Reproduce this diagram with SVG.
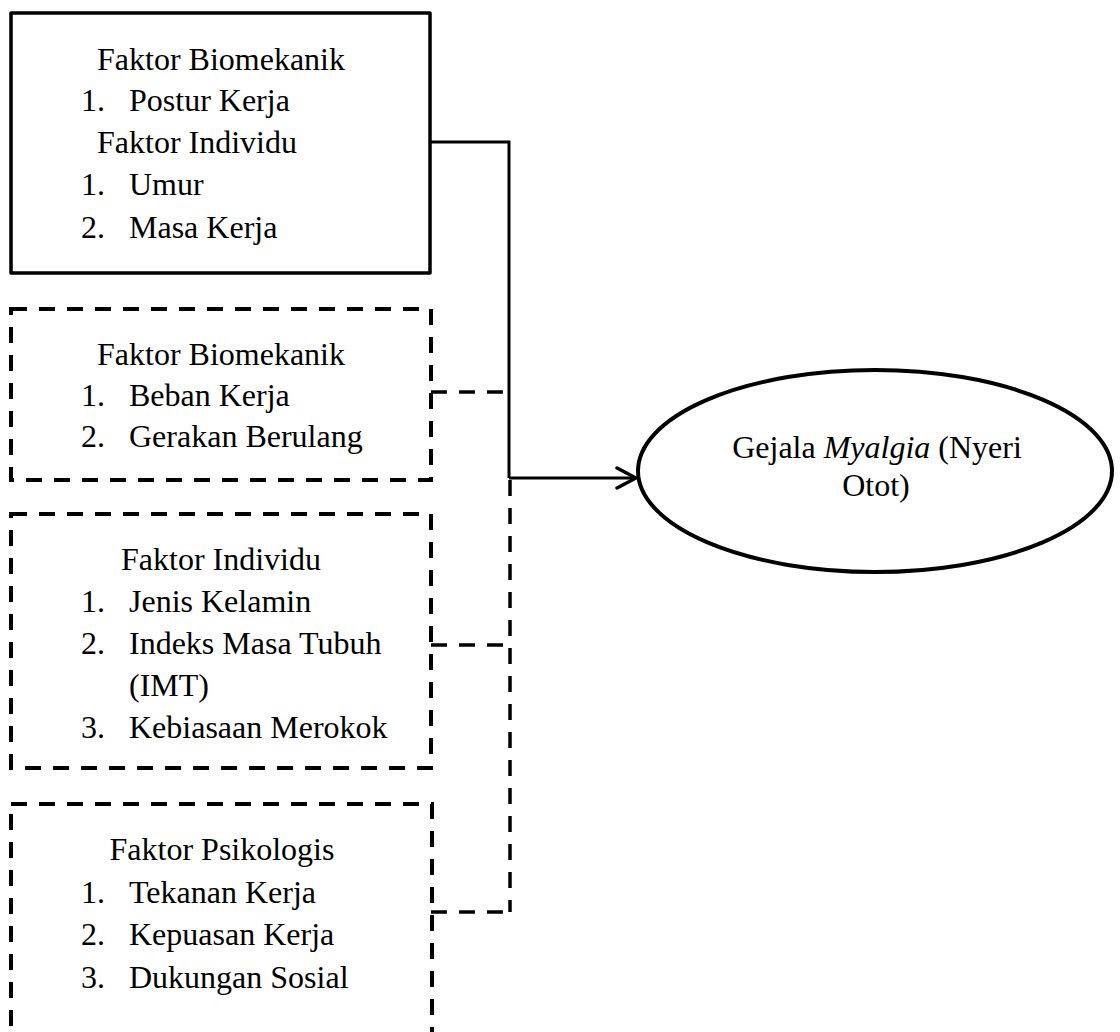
<svg xmlns="http://www.w3.org/2000/svg" width="1120" height="1032" viewBox="0 0 1120 1032">
<style>
  text { font-family: "Liberation Serif", "Times New Roman", serif; font-size: 32px; fill: #000; }
  .solid { fill: none; stroke: #000; stroke-width: 3.5; stroke-linejoin: round; }
  .dash { fill: none; stroke: #000; stroke-width: 4; stroke-dasharray: 16 12; }
  .conn { fill: none; stroke: #000; stroke-width: 3; }
  .conndash { fill: none; stroke: #000; stroke-width: 3.5; stroke-dasharray: 16 12; }
  .mid { text-anchor: middle; }
</style>
<defs>
  <marker id="arrow" viewBox="0 0 24 24" refX="21" refY="12" markerWidth="24" markerHeight="24" markerUnits="userSpaceOnUse" orient="auto">
    <path d="M2,2 L21,12 L2,22" fill="none" stroke="#000" stroke-width="3.5" stroke-linecap="round" stroke-linejoin="round"/>
  </marker>
</defs>
<rect width="1120" height="1032" fill="#fff"/>

<g id="connectors">
  <polyline class="conn" points="430,142 509,142 509,478"/>
  <line class="conn" x1="509" y1="478" x2="636" y2="478" marker-end="url(#arrow)"/>
  <line class="conndash" x1="431" y1="392" x2="509" y2="392"/>
  <line class="conndash" x1="431" y1="645" x2="510" y2="645"/>
  <line class="conndash" x1="431" y1="912" x2="510" y2="912"/>
  <line class="conndash" x1="510" y1="480" x2="510" y2="912"/>
</g>

<g id="box1">
  <rect class="solid" x="11" y="13" width="419" height="260"/>
  <text x="97" y="70">Faktor Biomekanik</text>
  <text x="81" y="111">1.</text><text x="129" y="111">Postur Kerja</text>
  <text x="97" y="153">Faktor Individu</text>
  <text x="81" y="195">1.</text><text x="129" y="195">Umur</text>
  <text x="81" y="238">2.</text><text x="129" y="238">Masa Kerja</text>
</g>

<g id="box2">
  <rect class="dash" x="11" y="309" width="420" height="171"/>
  <text class="mid" x="221" y="365">Faktor Biomekanik</text>
  <text x="81" y="406">1.</text><text x="129" y="406">Beban Kerja</text>
  <text x="81" y="447">2.</text><text x="129" y="447">Gerakan Berulang</text>
</g>

<g id="box3">
  <rect class="dash" x="11" y="514" width="420" height="254"/>
  <text class="mid" x="221" y="570">Faktor Individu</text>
  <text x="81" y="612">1.</text><text x="129" y="612">Jenis Kelamin</text>
  <text x="81" y="654">2.</text><text x="129" y="654">Indeks Masa Tubuh</text>
  <text x="129" y="696">(IMT)</text>
  <text x="81" y="738">3.</text><text x="129" y="738">Kebiasaan Merokok</text>
</g>

<g id="box4">
  <rect class="dash" x="11" y="804" width="421" height="250"/>
  <text class="mid" x="222" y="860">Faktor Psikologis</text>
  <text x="81" y="903">1.</text><text x="129" y="903">Tekanan Kerja</text>
  <text x="81" y="945">2.</text><text x="129" y="945">Kepuasan Kerja</text>
  <text x="81" y="988">3.</text><text x="129" y="988">Dukungan Sosial</text>
</g>

<g id="outcome">
  <ellipse cx="875" cy="471" rx="237" ry="101" fill="none" stroke="#000" stroke-width="4"/>
  <text class="mid" x="877" y="458">Gejala <tspan font-style="italic">Myalgia</tspan> (Nyeri</text>
  <text class="mid" x="876" y="496">Otot)</text>
</g>
</svg>
